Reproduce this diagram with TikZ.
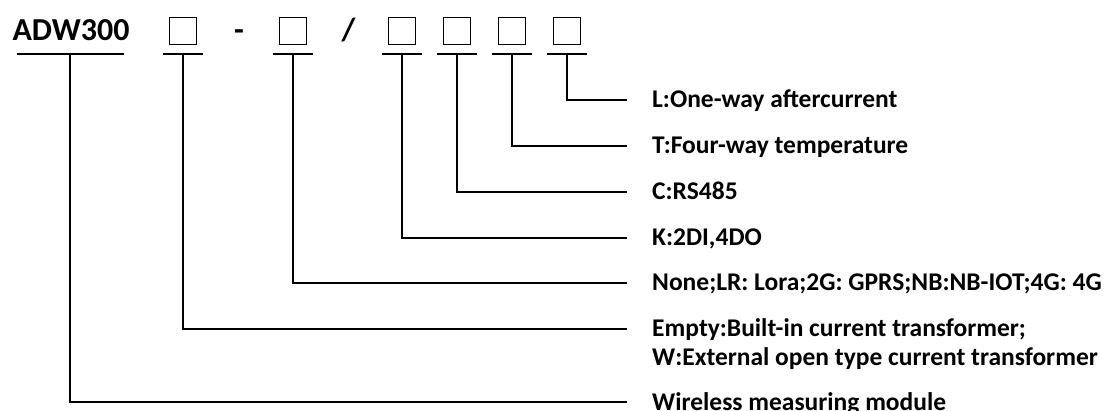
\documentclass[tikz,border=0pt]{standalone}
\usepackage{fontspec}
\setmainfont{Carlito}
\begin{document}
\begin{tikzpicture}[x=1pt,y=-1pt,
  title/.style={font=\fontsize{32}{36}\selectfont\bfseries, inner sep=0pt, anchor=base},
  slot/.style={draw, line width=1.5pt, minimum width=27pt, minimum height=27pt, inner sep=0pt},
  lbl/.style={font=\fontsize{25.5}{30}\selectfont\bfseries, anchor=west, inner xsep=25pt, inner ysep=0pt, text height=16pt, text depth=0pt},
  conn/.style={line width=1.2pt},
  uline/.style={line width=1.2pt}]
\useasboundingbox (0,0) rectangle (1110,411);
% title row
\node[title] (adw) at (71,41) {ADW300};
\node[title] (dash) at (239,41) {-};
\node[title] (slash) at (348.5,41) {/};
\foreach \n/\x in {b1/183,b2/293,b3/402,b4/457,b5/512,b6/567}{
  \node[slot] (\n) at (\x,31) {};
}
% underlines
\draw[uline] (17,54) -- (124,54);
\coordinate (uadw) at (70,54);
\foreach \n/\x in {b1/183,b2/293,b3/402,b4/457,b5/512,b6/567}{
  \draw[uline] (\x-20,54) -- (\x+20,54);
  \coordinate (u\n) at (\x,54);
}
% labels
\node[lbl] (l6) at (627,100) {L:One-way aftercurrent};
\node[lbl] (l5) at (627,146) {T:Four-way temperature};
\node[lbl] (l4) at (627,192) {C:RS485};
\node[lbl] (l3) at (627,238) {K:2DI,4DO};
\node[lbl] (l2) at (627,283) {None;LR: Lora;2G: GPRS;NB:NB-IOT;4G: 4G};
\node[lbl] (l1) at (627,329) {Empty:Built-in current transformer;};
\node[lbl] (l1b) at (627,357) {W:External open type current transformer};
\node[lbl] (l0) at (627,402) {Wireless measuring module};
% connectors
\draw[conn] (ub6) |- (l6.west);
\draw[conn] (ub5) |- (l5.west);
\draw[conn] (ub4) |- (l4.west);
\draw[conn] (ub3) |- (l3.west);
\draw[conn] (ub2) |- (l2.west);
\draw[conn] (ub1) |- (l1.west);
\draw[conn] (uadw) |- (l0.west);
\end{tikzpicture}
\end{document}
